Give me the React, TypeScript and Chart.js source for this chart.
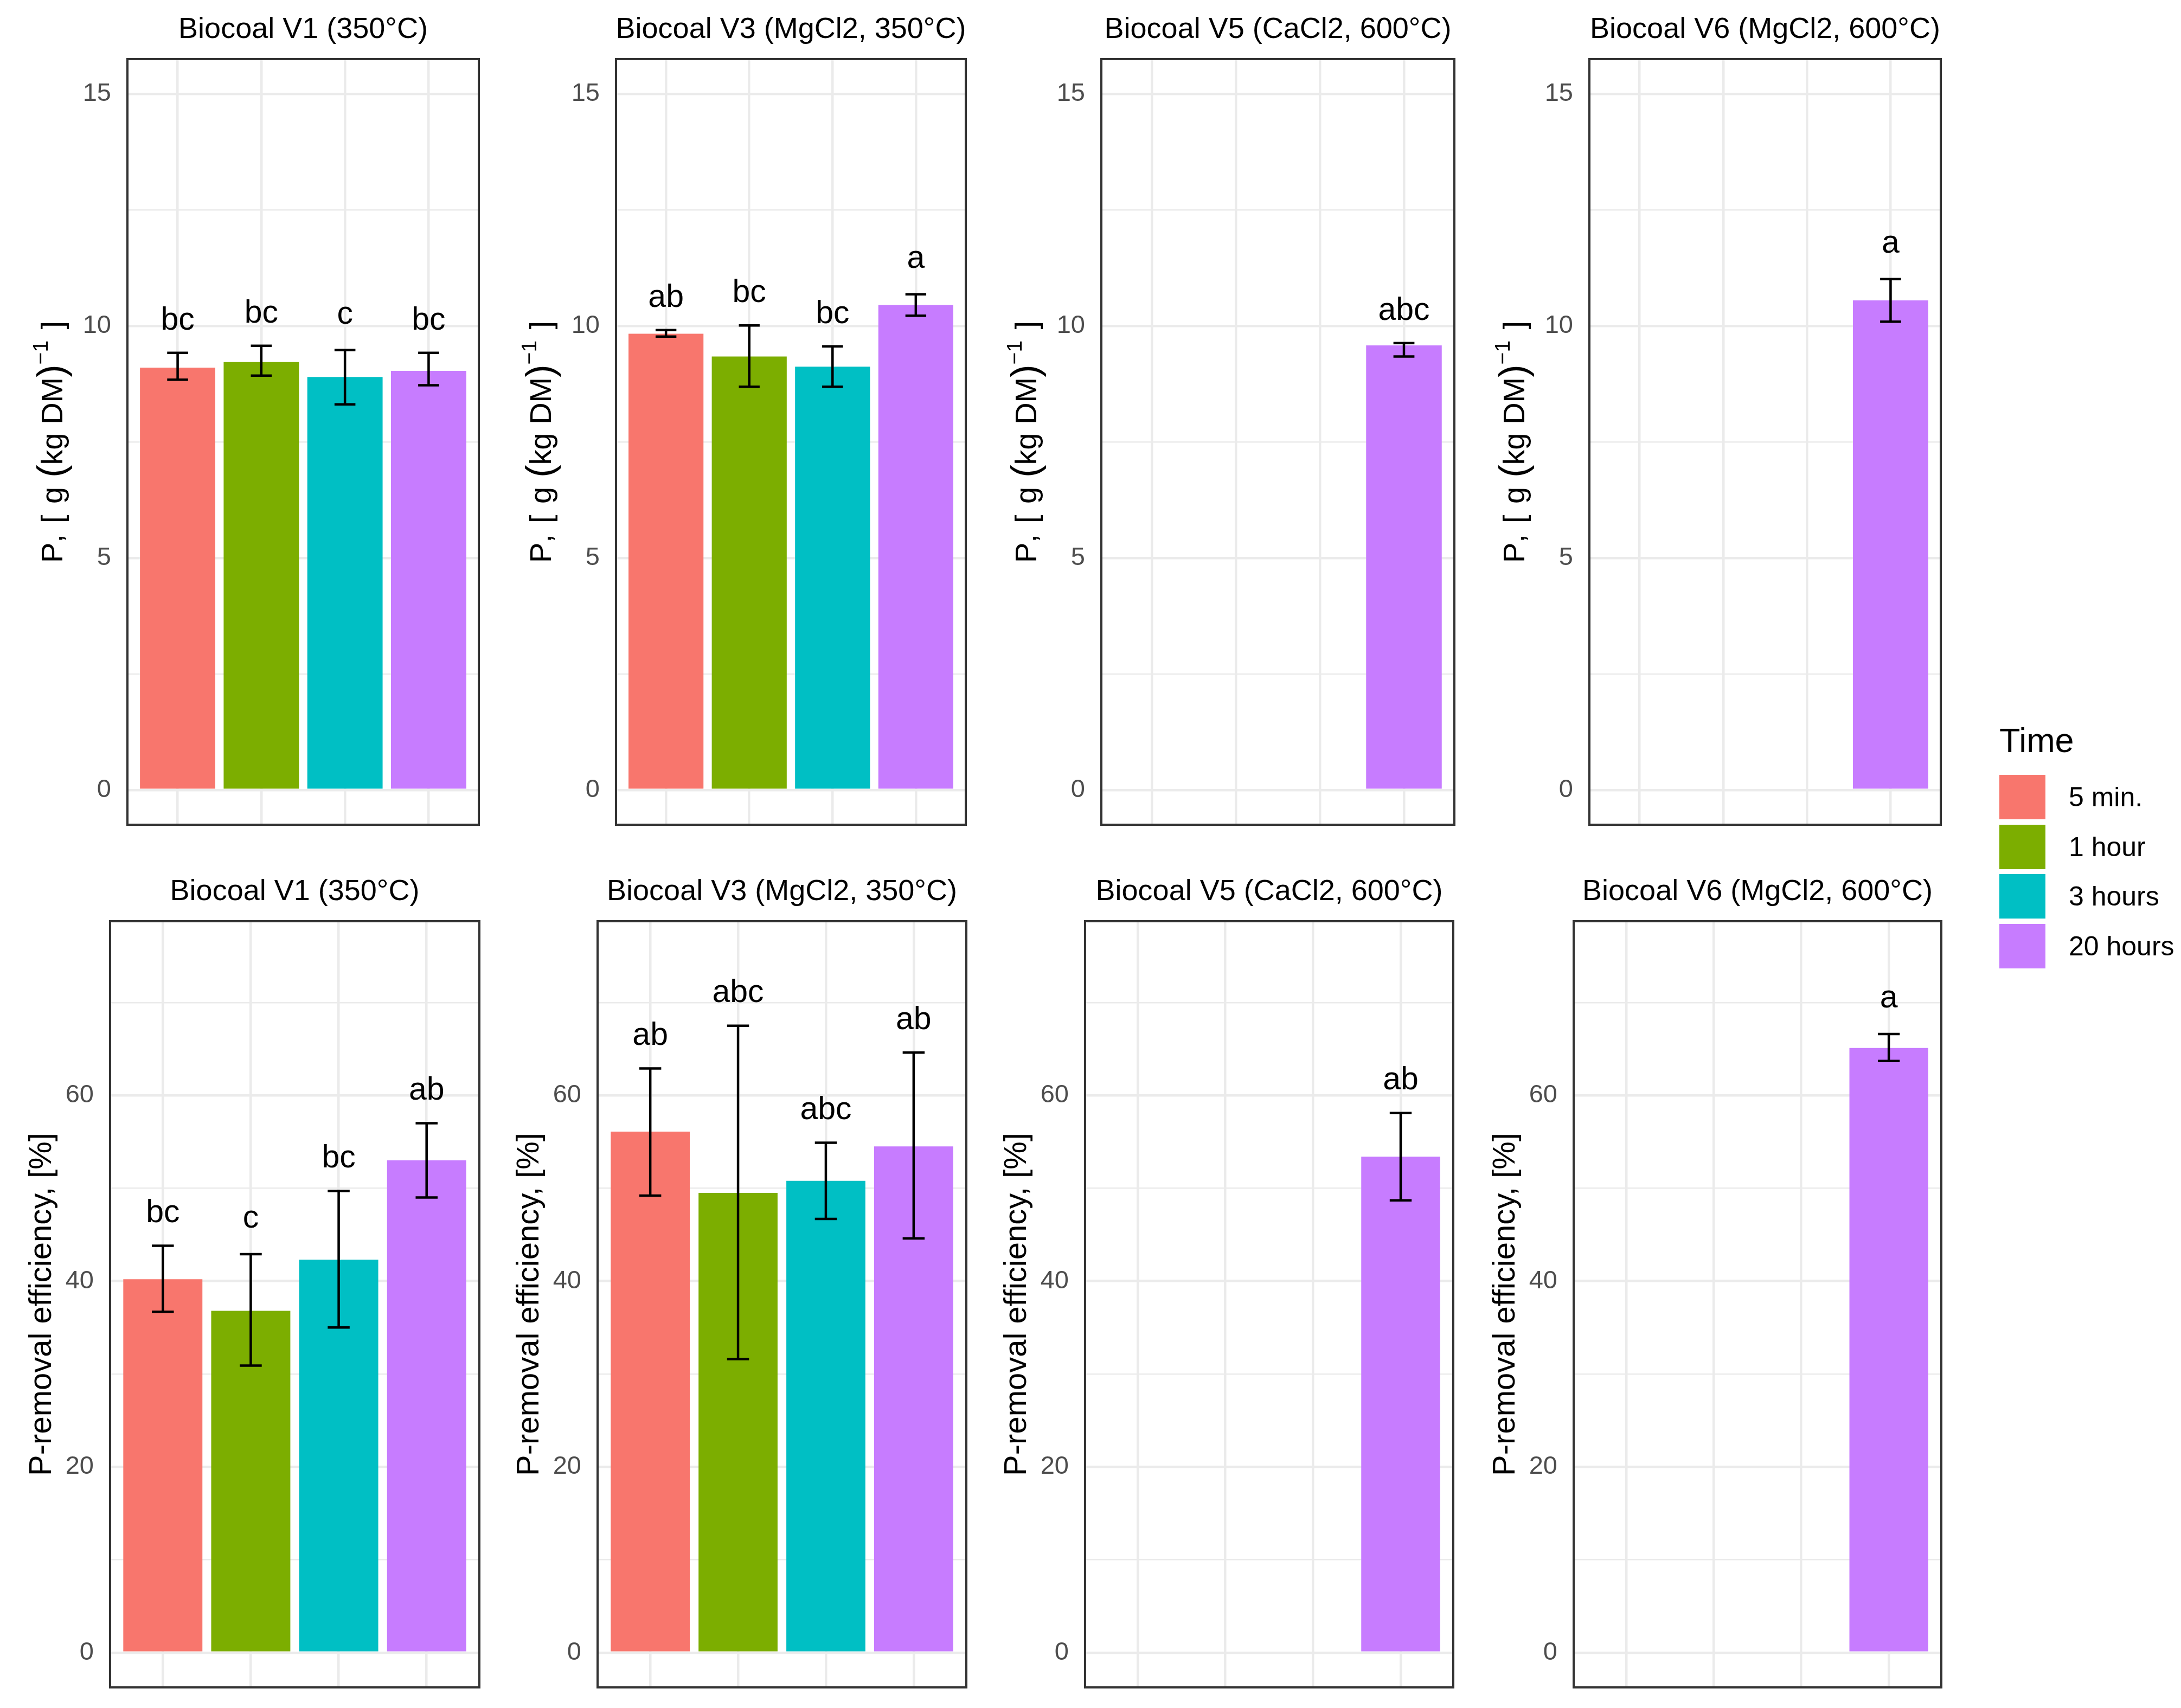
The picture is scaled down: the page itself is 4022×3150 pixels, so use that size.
import React, { useEffect, useRef } from 'react';
import { Chart, registerables } from 'chart.js';

Chart.register(...registerables);

const FONT = '"Liberation Sans", Arial, Helvetica, sans-serif';
Chart.defaults.font.family = FONT;

// ---------------- data ----------------
const timeLabels = ['5 min.', '1 hour', '3 hours', '20 hours'];
const timeColors = ['#F8766D', '#7CAE00', '#00BFC4', '#C77CFF'];
const legendTitle = 'Time';

const panelTitles = [
  'Biocoal V1 (350°C)',
  'Biocoal V3 (MgCl2, 350°C)',
  'Biocoal V5 (CaCl2, 600°C)',
  'Biocoal V6 (MgCl2, 600°C)',
];

// Top row: P content, g (kg DM)^-1
const pV1Mean = [9.1, 9.22, 8.9, 9.03];
const pV1Low = [8.84, 8.93, 8.31, 8.72];
const pV1High = [9.42, 9.57, 9.48, 9.42];
const pV1Letters = ['bc', 'bc', 'c', 'bc'];

const pV3Mean = [9.83, 9.34, 9.12, 10.45];
const pV3Low = [9.77, 8.69, 8.69, 10.22];
const pV3High = [9.91, 10.01, 9.56, 10.68];
const pV3Letters = ['ab', 'bc', 'bc', 'a'];

const pV5Mean = [null, null, null, 9.58];
const pV5Low = [null, null, null, 9.34];
const pV5High = [null, null, null, 9.63];
const pV5Letters = [null, null, null, 'abc'];

const pV6Mean = [null, null, null, 10.55];
const pV6Low = [null, null, null, 10.09];
const pV6High = [null, null, null, 11.01];
const pV6Letters = [null, null, null, 'a'];

// Bottom row: P-removal efficiency, %
const effV1Mean = [40.2, 36.8, 42.3, 53.0];
const effV1Low = [36.7, 30.9, 35.0, 49.0];
const effV1High = [43.8, 42.9, 49.7, 57.0];
const effV1Letters = ['bc', 'c', 'bc', 'ab'];

const effV3Mean = [56.1, 49.5, 50.8, 54.5];
const effV3Low = [49.2, 31.6, 46.7, 44.6];
const effV3High = [62.9, 67.5, 54.9, 64.6];
const effV3Letters = ['ab', 'abc', 'abc', 'ab'];

const effV5Mean = [null, null, null, 53.4];
const effV5Low = [null, null, null, 48.7];
const effV5High = [null, null, null, 58.1];
const effV5Letters = [null, null, null, 'ab'];

const effV6Mean = [null, null, null, 65.1];
const effV6Low = [null, null, null, 63.7];
const effV6High = [null, null, null, 66.6];
const effV6Letters = [null, null, null, 'a'];

// axes
const pLimits = [0, 15];
const pMajorTicks = [0, 5, 10, 15];
const pMinorTicks = [2.5, 7.5, 12.5];
const effLimits = [0, 75];
const effMajorTicks = [0, 20, 40, 60];
const effMinorTicks = [10, 30, 50, 70];
const effTitle = 'P-removal efficiency, [%]';

// ---------------- layout (pixels) ----------------
const TOP_FRAMES = [
  [235, 883],
  [1136, 1781],
  [2031, 2682],
  [2931, 3579],
];
const TOP_Y = [109, 1521];
const BOT_FRAMES = [
  [203, 884],
  [1102, 1782],
  [2001, 2680],
  [2902, 3580],
];
const BOT_Y = [1699, 3112];
const PAD_L = 235;
const PAD_T = 109;
const PAD_R = 20;
const PAD_B = 80;

type Panel = {
  title: string;
  mean: (number | null)[];
  low: (number | null)[];
  high: (number | null)[];
  letters: (string | null)[];
  limits: number[];
  major: number[];
  minor: number[];
  yTitle: 'p' | 'eff';
  frameX: number[];
  frameY: number[];
};

const panels: Panel[] = [
  { title: panelTitles[0], mean: pV1Mean, low: pV1Low, high: pV1High, letters: pV1Letters, limits: pLimits, major: pMajorTicks, minor: pMinorTicks, yTitle: 'p', frameX: TOP_FRAMES[0], frameY: TOP_Y },
  { title: panelTitles[1], mean: pV3Mean, low: pV3Low, high: pV3High, letters: pV3Letters, limits: pLimits, major: pMajorTicks, minor: pMinorTicks, yTitle: 'p', frameX: TOP_FRAMES[1], frameY: TOP_Y },
  { title: panelTitles[2], mean: pV5Mean, low: pV5Low, high: pV5High, letters: pV5Letters, limits: pLimits, major: pMajorTicks, minor: pMinorTicks, yTitle: 'p', frameX: TOP_FRAMES[2], frameY: TOP_Y },
  { title: panelTitles[3], mean: pV6Mean, low: pV6Low, high: pV6High, letters: pV6Letters, limits: pLimits, major: pMajorTicks, minor: pMinorTicks, yTitle: 'p', frameX: TOP_FRAMES[3], frameY: TOP_Y },
  { title: panelTitles[0], mean: effV1Mean, low: effV1Low, high: effV1High, letters: effV1Letters, limits: effLimits, major: effMajorTicks, minor: effMinorTicks, yTitle: 'eff', frameX: BOT_FRAMES[0], frameY: BOT_Y },
  { title: panelTitles[1], mean: effV3Mean, low: effV3Low, high: effV3High, letters: effV3Letters, limits: effLimits, major: effMajorTicks, minor: effMinorTicks, yTitle: 'eff', frameX: BOT_FRAMES[1], frameY: BOT_Y },
  { title: panelTitles[2], mean: effV5Mean, low: effV5Low, high: effV5High, letters: effV5Letters, limits: effLimits, major: effMajorTicks, minor: effMinorTicks, yTitle: 'eff', frameX: BOT_FRAMES[2], frameY: BOT_Y },
  { title: panelTitles[3], mean: effV6Mean, low: effV6Low, high: effV6High, letters: effV6Letters, limits: effLimits, major: effMajorTicks, minor: effMinorTicks, yTitle: 'eff', frameX: BOT_FRAMES[3], frameY: BOT_Y },
];

function canvasBox(p: Panel) {
  const left = p.frameX[0] - PAD_L;
  const top = p.frameY[0] - PAD_T;
  const width = p.frameX[1] - p.frameX[0] + PAD_L + PAD_R;
  const height = p.frameY[1] - p.frameY[0] + PAD_T + PAD_B;
  return { left, top, width, height };
}

function drawPTitle(ctx: CanvasRenderingContext2D, cx: number, cy: number, size: number) {
  const parts: { t: string; s: number; raise?: number }[] = [
    { t: 'P', s: 1 },
    { t: ',', s: 1 },
    { t: ' ', s: 1.3 },
    { t: '[', s: 1 },
    { t: ' ', s: 1.3 },
    { t: 'g', s: 1 },
    { t: ' ', s: 1.1 },
    { t: '(', s: 1.25 },
    { t: 'kg', s: 1 },
    { t: ' ', s: 1 },
    { t: 'DM', s: 1 },
    { t: ')', s: 1.25 },
    { t: '\u22121', s: 0.7, raise: 0.48 },
    { t: ' ', s: 1.3 },
    { t: ']', s: 1 },
  ];
  const widths = parts.map((pt) => {
    ctx.font = `${pt.s * size}px ${FONT}`;
    return ctx.measureText(pt.t).width;
  });
  const total = widths.reduce((a, b) => a + b, 0);
  ctx.save();
  ctx.translate(cx, cy);
  ctx.rotate(-Math.PI / 2);
  ctx.fillStyle = '#000';
  ctx.textBaseline = 'alphabetic';
  ctx.textAlign = 'left';
  let x = -total / 2;
  const base = size * 0.36;
  parts.forEach((pt, i) => {
    ctx.font = `${pt.s * size}px ${FONT}`;
    const extra = pt.t === '(' || pt.t === ')' ? size * 0.05 : 0;
    ctx.fillText(pt.t, x, base + extra - (pt.raise || 0) * size);
    x += widths[i];
  });
  ctx.restore();
}

function makeChart(canvas: HTMLCanvasElement, p: Panel) {
  const span = p.limits[1] - p.limits[0];
  const yMin = p.limits[0] - 0.05 * span;
  const yMax = p.limits[1] + 0.05 * span;
  const labelOffset = 0.05 * span;
  const allTicks = [...p.major, ...p.minor].sort((a, b) => a - b);
  const positions = timeLabels.map((_, i) => i + 1);

  const points: { x: number; y: number }[] = [];
  const colors: string[] = [];
  p.mean.forEach((v, i) => {
    if (v !== null) {
      points.push({ x: positions[i], y: v });
      colors.push(timeColors[i]);
    }
  });

  const decor = {
    id: 'facetDecor',
    afterDatasetsDraw(chart: any) {
      const { ctx, scales } = chart;
      const xs = scales.x;
      const ys = scales.y;
      ctx.save();
      // error bars
      ctx.strokeStyle = '#000';
      ctx.lineWidth = 4.5;
      ctx.lineCap = 'butt';
      p.mean.forEach((v, i) => {
        const lo = p.low[i];
        const hi = p.high[i];
        if (v === null || lo === null || hi === null) return;
        const xc = xs.getPixelForValue(positions[i]);
        const xl = xs.getPixelForValue(positions[i] - 0.125);
        const xr = xs.getPixelForValue(positions[i] + 0.125);
        const yl = ys.getPixelForValue(lo);
        const yh = ys.getPixelForValue(hi);
        ctx.beginPath();
        ctx.moveTo(xc, yl);
        ctx.lineTo(xc, yh);
        ctx.moveTo(xl, yl);
        ctx.lineTo(xr, yl);
        ctx.moveTo(xl, yh);
        ctx.lineTo(xr, yh);
        ctx.stroke();
      });
      // significance letters
      ctx.fillStyle = '#000';
      ctx.font = `59px ${FONT}`;
      ctx.textAlign = 'center';
      ctx.textBaseline = 'alphabetic';
      p.letters.forEach((lab, i) => {
        const hi = p.high[i];
        if (!lab || hi === null) return;
        const m = ctx.measureText(lab);
        const cy = ys.getPixelForValue(hi + labelOffset);
        const asc = m.actualBoundingBoxAscent;
        const desc = m.actualBoundingBoxDescent;
        ctx.fillText(lab, xs.getPixelForValue(positions[i]), cy + (asc - desc) / 2);
      });
      ctx.restore();
    },
    afterDraw(chart: any) {
      const { ctx, chartArea: a } = chart;
      ctx.save();
      // panel border
      ctx.strokeStyle = '#333333';
      ctx.lineWidth = 4;
      ctx.strokeRect(a.left, a.top, a.right - a.left, a.bottom - a.top);
      // panel title
      ctx.fillStyle = '#000';
      ctx.font = `54px ${FONT}`;
      ctx.textAlign = 'center';
      ctx.textBaseline = 'alphabetic';
      ctx.fillText(p.title, (a.left + a.right) / 2, a.top - 39);
      // y title
      const cy = (a.top + a.bottom) / 2;
      if (p.yTitle === 'eff') {
        ctx.translate(a.left - 125, cy);
        ctx.rotate(-Math.PI / 2);
        ctx.font = `58px ${FONT}`;
        ctx.textAlign = 'center';
        ctx.textBaseline = 'middle';
        ctx.fillText(effTitle, 0, 0);
      } else {
        drawPTitle(ctx, a.left - 140, cy, 56);
      }
      ctx.restore();
    },
  };

  return new Chart(canvas, {
    type: 'bar',
    data: {
      datasets: [
        {
          data: points as any,
          backgroundColor: colors,
          borderWidth: 0,
          categoryPercentage: 1,
          barPercentage: 0.9,
        },
      ],
    },
    options: {
      animation: false,
      responsive: false,
      maintainAspectRatio: false,
      devicePixelRatio: 1,
      layout: { padding: { left: 0, top: PAD_T, right: PAD_R, bottom: PAD_B } },
      plugins: {
        legend: { display: false },
        tooltip: { enabled: false },
        title: { display: false },
      },
      scales: {
        x: {
          type: 'linear',
          min: 0.4,
          max: 4.6,
          offset: false,
          afterBuildTicks: (s: any) => {
            s.ticks = positions.map((v) => ({ value: v }));
          },
          afterFit: (s: any) => {
            s.height = 0;
          },
          ticks: { display: false },
          grid: { color: '#EBEBEB', lineWidth: 4.5, drawTicks: false, offset: false },
          border: { display: false },
        },
        y: {
          type: 'linear',
          min: yMin,
          max: yMax,
          afterBuildTicks: (s: any) => {
            s.ticks = allTicks.map((v) => ({ value: v }));
          },
          afterFit: (s: any) => {
            s.width = PAD_L;
          },
          ticks: {
            autoSkip: false,
            padding: 30,
            color: '#4D4D4D',
            font: { family: FONT, size: 47 },
            callback: (v: any) => (p.major.includes(Number(v)) ? String(v) : ''),
          },
          grid: {
            color: '#EBEBEB',
            lineWidth: (c: any) => (c.tick && p.major.includes(c.tick.value) ? 4.5 : 2.5),
            drawTicks: false,
            offset: false,
          },
          border: { display: false },
        },
      },
    } as any,
    plugins: [decor],
  });
}

export default function App() {
  const refs = useRef<(HTMLCanvasElement | null)[]>([]);

  useEffect(() => {
    const charts = panels.map((p, i) => makeChart(refs.current[i] as HTMLCanvasElement, p));
    return () => {
      charts.forEach((c) => c.destroy());
    };
  }, []);

  const keyTop = 1429;
  const keyStep = 91.5;

  return (
    <div
      style={{
        position: 'absolute',
        left: 0,
        top: 0,
        width: 4022,
        height: 3150,
        background: '#ffffff',
        overflow: 'hidden',
        fontFamily: FONT,
      }}
    >
      {panels.map((p, i) => {
        const b = canvasBox(p);
        return (
          <canvas
            key={i}
            ref={(el) => {
              refs.current[i] = el;
            }}
            width={b.width}
            height={b.height}
            style={{ position: 'absolute', left: b.left, top: b.top, width: b.width, height: b.height }}
          />
        );
      })}
      <div
        style={{
          position: 'absolute',
          left: 3687,
          top: 1334,
          fontSize: 63,
          lineHeight: '63px',
          color: '#000',
          whiteSpace: 'nowrap',
        }}
      >
        {legendTitle}
      </div>
      {timeLabels.map((lab, i) => (
        <div
          key={lab}
          style={{
            position: 'absolute',
            left: 3687,
            top: keyTop + i * keyStep,
            height: 82,
            display: 'flex',
            alignItems: 'center',
            whiteSpace: 'nowrap',
          }}
        >
          <div style={{ width: 85, height: 82, background: timeColors[i] }} />
          <div style={{ marginLeft: 43, fontSize: 50, lineHeight: '82px', color: '#000' }}>{lab}</div>
        </div>
      ))}
    </div>
  );
}
